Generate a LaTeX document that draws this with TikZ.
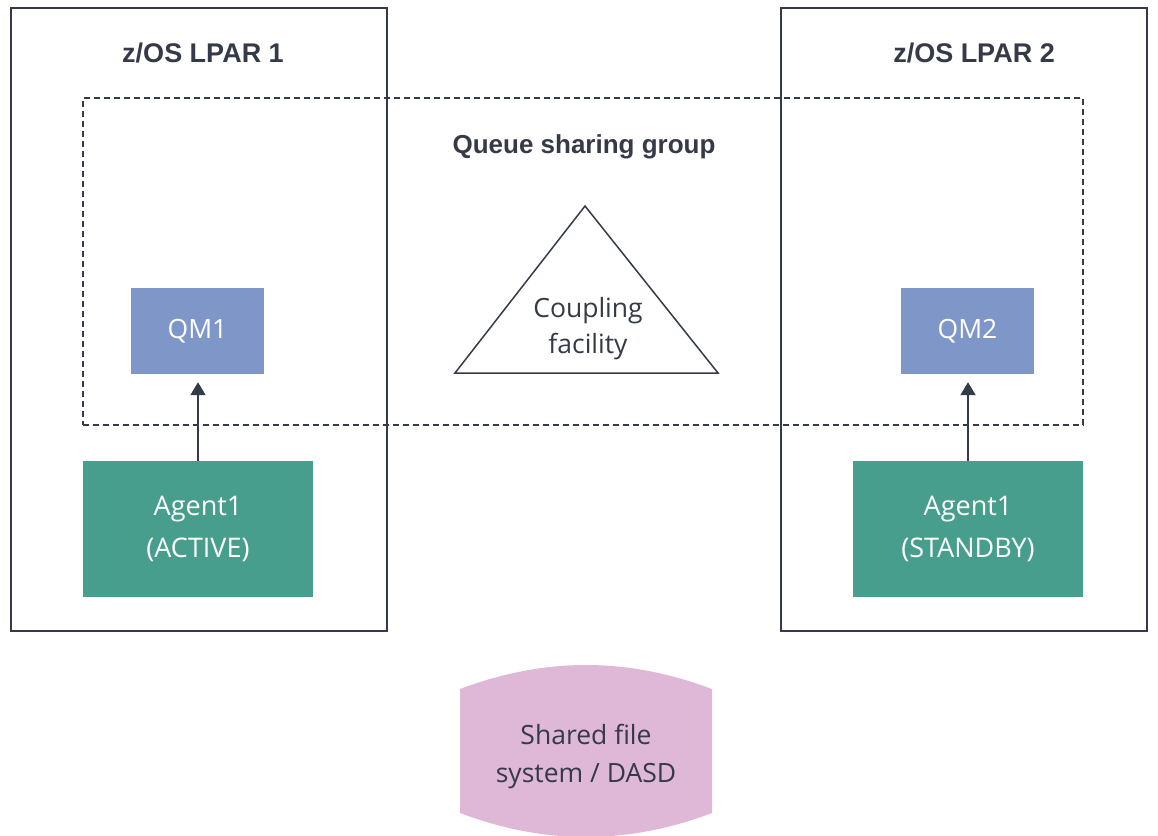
\documentclass[tikz,border=0pt]{standalone}
\usepackage{fontspec}
\setmainfont{Open Sans}
\newfontfamily\headfont{Liberation Sans}
\usetikzlibrary{calc, positioning, arrows.meta}
\usepackage{xcolor}
\definecolor{ink}{HTML}{343A47}
\definecolor{qmblue}{HTML}{7F97C8}
\definecolor{agentgreen}{HTML}{479E8D}
\definecolor{dasdpink}{HTML}{DFB8D8}

\begin{document}
\begin{tikzpicture}[
        x=1pt, y=-1pt,
        lpar/.style={
            rectangle, draw=ink, line width=1.5pt, fill=white,
            inner sep=0pt
        },
        qm/.style={
            rectangle, fill=qmblue, text=white, minimum width=133pt,
            minimum height=86pt, inner sep=0pt, font=\fontsize{26.5}{30}\selectfont
        },
        agent/.style={
            rectangle, fill=agentgreen, text=white, minimum width=230pt,
            minimum height=136pt, inner sep=0pt, align=center,
            font=\fontsize{27}{42}\selectfont
        },
        title/.style={
            font=\headfont\bfseries\fontsize{27}{32}\selectfont, text=ink
        },
        link/.style={draw=ink, line width=2pt, -{Triangle[width=15pt,length=13pt]}, shorten >=8pt}
    ]

    \useasboundingbox (0,0) rectangle (1158,835);
    \clip (0,0) rectangle (1158,835);

    % LPARs
    \node[lpar, minimum width=376pt, minimum height=623pt] (lpara) at (199, 319.5) {};
    \node[lpar, minimum width=366pt, minimum height=623pt] (lparb) at (964, 319.5) {};
    \node[title] (lparatitle) at (203, 53) {z/OS LPAR 1};
    \node[title] (lparbtitle) at (974, 53) {z/OS LPAR 2};

    % Queue sharing group
    \node[draw=ink, line width=1.8pt, dash pattern=on 6pt off 4pt,
        minimum width=1000pt, minimum height=327pt, inner sep=0pt] (qsg) at (583, 261.5) {};
    \node[title, font=\headfont\bfseries\fontsize{26}{32}\selectfont] (qsgtitle) at (584, 147) {Queue sharing group};

    % Coupling facility
    \draw[ink, line width=1.5pt, line join=miter] (585, 206) -- (718, 373) -- (455, 373) -- cycle;
    \node[align=center, text=ink, font=\fontsize{26.5}{36}\selectfont] (cf) at (588, 329) {Coupling\\facility};

    % Queue managers
    \node[qm] (qma) at (197.5, 331) {QM1};
    \node[qm] (qmb) at (967.5, 331) {QM2};

    % Agents
    \node[agent] (agenta) at (198, 529) {Agent1\\(ACTIVE)};
    \node[agent] (agentb) at (968, 529) {Agent1\\(STANDBY)};

    % Agent to queue manager
    \draw[link] (agenta.north) -- (agenta.north |- qma.south);
    \draw[link] (agentb.north) -- (agentb.north |- qmb.south);

    % Shared DASD
    \fill[dasdpink] (460, 689) .. controls (545, 657) and (627, 657) .. (712, 689)
        -- (712, 813) .. controls (627, 845) and (545, 845) .. (460, 813) -- cycle;
    \node[align=center, text=ink, font=\fontsize{26.5}{38}\selectfont] (dasd) at (586, 757) {Shared file\\system / DASD};

\end{tikzpicture}
\end{document}
